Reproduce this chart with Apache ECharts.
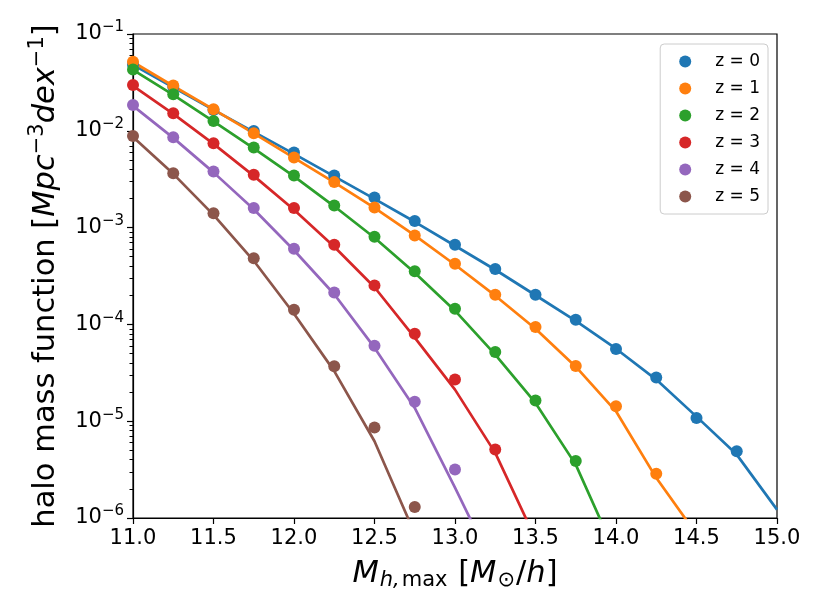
<!DOCTYPE html>
<html>
<head>
<meta charset="utf-8">
<script src="https://cdn.jsdelivr.net/npm/echarts@6/dist/echarts.min.js"></script>
<style>
html, body { margin: 0; padding: 0; background: #fff; }
#chart { width: 822px; height: 616px; }
</style>
</head>
<body>
<div id="chart"></div>
<script>
// mass bins of the measured points and of the fit curves
var massBins = [11.0, 11.25, 11.5, 11.75, 12.0, 12.25, 12.5, 12.75, 13.0, 13.25, 13.5, 13.75, 14.0, 14.25, 14.5, 14.75]
var fitMass = [11.0, 11.25, 11.5, 11.75, 12.0, 12.25, 12.5, 12.75, 13.0, 13.25, 13.5, 13.75, 14.0, 14.25, 14.5, 14.75, 15.0]

var redshifts = ['z = 0', 'z = 1', 'z = 2', 'z = 3', 'z = 4', 'z = 5']
var colors = ['#1f77b4', '#ff7f0e', '#2ca02c', '#d62728', '#9467bd', '#8c564b']

// measured points
var z0Points = [0.0484, 0.0284, 0.01643, 0.00998, 0.00596, 0.00345, 0.00205, 0.00117, 0.000665, 0.000373, 0.000203, 0.000112, 5.57e-5, 2.82e-5, 1.08e-5, 4.89e-6]
var z1Points = [0.0518, 0.0293, 0.0167, 0.00945, 0.00529, 0.00295, 0.00161, 0.000829, 0.000423, 0.000203, 9.4e-5, 3.71e-5, 1.43e-5, 2.86e-6]
var z2Points = [0.043, 0.0239, 0.01265, 0.00671, 0.00345, 0.00169, 0.000804, 0.000354, 0.000145, 5.19e-5, 1.64e-5, 3.89e-6]
var z3Points = [0.0298, 0.0152, 0.00745, 0.00351, 0.00159, 0.000665, 0.000253, 8.02e-5, 2.69e-5, 5.09e-6]
var z4Points = [0.0185, 0.00859, 0.00379, 0.00159, 0.000604, 0.000214, 6.03e-5, 1.59e-5, 3.17e-6]
var z5Points = [0.00886, 0.00365, 0.00141, 0.000482, 0.000142, 3.69e-5, 8.59e-6, 1.30e-6]

// fit curves (run below the bottom of the axis, clipped there)
var z0Fit = [0.0479, 0.02805, 0.01643, 0.00974, 0.00578, 0.00338, 0.00198, 0.001148, 0.000649, 0.000367, 0.0002, 0.000109, 5.61e-5, 2.69e-5, 1.115e-5, 4.52e-6, 1.22e-6]
var z1Fit = [0.0514, 0.02905, 0.01663, 0.0094, 0.00525, 0.002934, 0.0016, 0.000832, 0.000413, 0.000198, 9.03e-5, 3.66e-5, 1.265e-5, 2.6e-6, 6.8e-7]
var z2Fit = [0.0425, 0.02346, 0.0125, 0.00658, 0.00338, 0.00166, 0.000785, 0.000342, 0.0001385, 4.87e-5, 1.545e-5, 3.56e-6, 4.2e-7]
var z3Fit = [0.02905, 0.01494, 0.00732, 0.00342, 0.001526, 0.000634, 0.000242, 7.29e-5, 2.12e-5, 4.71e-6, 6.1e-7]
var z4Fit = [0.01807, 0.00845, 0.00372, 0.001545, 0.000583, 0.000205, 5.75e-5, 1.372e-5, 2.06e-6, 2.9e-7]
var z5Fit = [0.00865, 0.00359, 0.001355, 0.000454, 0.000129, 3.29e-5, 6.2e-6, 6.9e-7]

var allPoints = [z0Points, z1Points, z2Points, z3Points, z4Points, z5Points]
var allFits = [z0Fit, z1Fit, z2Fit, z3Fit, z4Fit, z5Fit]

var font = 'DejaVu Sans'

// minor ticks of the log axis at 2..9 x 10^n, given as log10 values
var minorTicks = []
for (var d = -6; d < -1; d++) {
    for (var k = 2; k <= 9; k++) {
        minorTicks.push(d + Math.log10(k))
    }
}

function pairs(xs, ys) {
    var out = []
    for (var i = 0; i < ys.length; i++) out.push([xs[i], ys[i]])
    return out
}

var series = []
for (var i = 0; i < redshifts.length; i++) {
    series.push({
        name: 'fit ' + i,
        type: 'line',
        data: pairs(fitMass, allFits[i]),
        showSymbol: false,
        symbol: 'none',
        clip: true,
        z: 2,
        lineStyle: { color: colors[i], width: 2.7 },
        itemStyle: { color: colors[i] }
    })
}
for (var i = 0; i < redshifts.length; i++) {
    series.push({
        name: redshifts[i],
        type: 'scatter',
        data: pairs(massBins, allPoints[i]),
        symbol: 'circle',
        symbolSize: 12,
        z: 3,
        itemStyle: { color: colors[i], opacity: 1 }
    })
}

var option = {
    animation: false,
    backgroundColor: '#fff',
    grid: {
        left: 133, right: 45, top: 34, bottom: 98,
        show: true, borderColor: '#000', borderWidth: 1.2, backgroundColor: 'transparent'
    },
    legend: {
        data: redshifts,
        orient: 'vertical',
        right: 54, top: 44,
        itemWidth: 12, itemHeight: 12,
        itemGap: 10,
        padding: [9, 8, 9, 19],
        backgroundColor: 'rgba(255,255,255,0.8)',
        borderColor: '#cccccc', borderWidth: 1, borderRadius: 4,
        icon: 'circle',
        textStyle: { fontFamily: font, fontSize: 17, color: '#000', lineHeight: 16, padding: [0, 0, 0, 19] }
    },
    xAxis: {
        type: 'value', min: 11, max: 15, interval: 0.5,
        axisLine: { show: true, lineStyle: { color: '#000', width: 1.2 } },
        axisTick: { show: true, length: 6, lineStyle: { color: '#000', width: 1.2 } },
        splitLine: { show: false },
        axisLabel: {
            margin: 10, color: '#000', fontFamily: font, fontSize: 21,
            formatter: function (v) { return v.toFixed(1) }
        },
        name: '{i|M}{si|h,}{s|max}{n| [}{i|M}{s|⊙}{n|/}{i|h}{n|]}',
        nameLocation: 'middle',
        nameGap: 40,
        nameTextStyle: {
            rich: {
                i: { fontFamily: font, fontStyle: 'italic', fontSize: 30.5, color: '#000' },
                n: { fontFamily: font, fontSize: 30.5, color: '#000' },
                si: { fontFamily: font, fontStyle: 'italic', fontSize: 21, color: '#000', verticalAlign: 'bottom', padding: [12, 1, 0, 1] },
                s: { fontFamily: font, fontSize: 21, color: '#000', verticalAlign: 'bottom', padding: [12, 1, 0, 1] }
            }
        }
    },
    yAxis: [{
        type: 'log', logBase: 10, min: 1e-6, max: 1e-1,
        axisLine: { show: true, lineStyle: { color: '#000', width: 1.2 } },
        axisTick: { show: true, length: 6, lineStyle: { color: '#000', width: 1.2 } },
        minorTick: { show: false },
        splitLine: { show: false },
        axisLabel: {
            margin: 9,
            formatter: function (v) {
                var e = Math.round(Math.log10(v))
                return '{b|10}{s|−' + (-e) + '}'
            },
            rich: {
                b: { fontFamily: font, fontSize: 21, color: '#000', lineHeight: 28 },
                s: { fontFamily: font, fontSize: 15, color: '#000', verticalAlign: 'top', lineHeight: 15 }
            }
        },
        name: '{n|halo mass function [}{i|Mpc}{s|−3}{i|dex}{s|−1}{n|]}',
        nameLocation: 'middle',
        nameRotate: 90,
        nameGap: 68,
        nameTextStyle: {
            rich: {
                n: { fontFamily: font, fontSize: 30.5, color: '#000', lineHeight: 38 },
                i: { fontFamily: font, fontStyle: 'italic', fontSize: 30.5, color: '#000', lineHeight: 38 },
                s: { fontFamily: font, fontSize: 21, color: '#000', verticalAlign: 'top', lineHeight: 21 }
            }
        }
    }, {
        // carries only the minor ticks of the log axis
        type: 'value', min: -6, max: -1, position: 'left',
        axisLine: { show: false },
        axisLabel: { show: false },
        splitLine: { show: false },
        axisTick: { show: true, length: 3.5, customValues: minorTicks, lineStyle: { color: '#000', width: 1 } }
    }],
    series: series
}

var chart = echarts.init(document.getElementById('chart'))
chart.setOption(option)
</script>
</body>
</html>
